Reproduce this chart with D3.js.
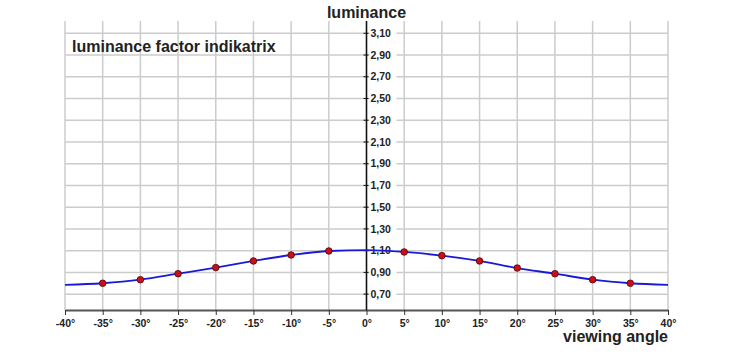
<!DOCTYPE html>
<html><head><meta charset="utf-8">
<script src="https://cdn.jsdelivr.net/npm/d3@7"></script>
<style>body{margin:0;background:#fff}svg{display:block}text{font-family:"Liberation Sans",Arial,sans-serif}</style>
</head><body>
<svg id="c" width="731" height="357"></svg>
<script>
const markerAngles = [-35,-30,-25,-20,-15,-10,-5,5,10,15,20,25,30,35];
const markerValues = [0.80,0.833,0.888,0.944,1.005,1.06,1.097,1.088,1.054,1.005,0.94,0.888,0.833,0.80];
const curveAngles = [-40,-35,-30,-25,-20,-15,-10,-5,0,5,10,15,20,25,30,35,40];
const curveValues = [0.785,0.80,0.833,0.888,0.944,1.005,1.06,1.097,1.105,1.088,1.054,1.005,0.94,0.888,0.833,0.80,0.785];
const xTicks = [-40,-35,-30,-25,-20,-15,-10,-5,0,5,10,15,20,25,30,35,40];
const yTicks = [0.70,0.90,1.10,1.30,1.50,1.70,1.90,2.10,2.30,2.50,2.70,2.90,3.10];
const title = "luminance factor indikatrix";
const yTitle = "luminance";
const xTitle = "viewing angle";

const svg = d3.select("#c");
const x = d3.scaleLinear().domain([-40,40]).range([65,668]);
const y = d3.scaleLinear().domain([0.554,3.213]).range([310,21]);
const fmt = v => d3.format(".2f")(v).replace(".", ",");

// grid
svg.append("g").selectAll("line").data(xTicks).join("line")
  .attr("x1", d=>x(d)).attr("x2", d=>x(d)).attr("y1", y.range()[1]).attr("y2", y.range()[0])
  .attr("stroke", "#cccccc").attr("stroke-width", 1.5);
svg.append("g").selectAll("line").data(yTicks).join("line")
  .attr("x1", x.range()[0]).attr("x2", x.range()[1]).attr("y1", d=>y(d)).attr("y2", d=>y(d))
  .attr("stroke", "#cccccc").attr("stroke-width", 1.5);

// x axis
const xAxis = svg.append("g").attr("transform", `translate(0,${y.range()[0]})`)
  .call(d3.axisBottom(x).tickValues(xTicks).tickFormat(d=>d+"°").tickSize(5).tickSizeOuter(0));
xAxis.select(".domain").attr("stroke", "#555").attr("stroke-width", 2);
xAxis.selectAll(".tick line").attr("stroke", "#333");
xAxis.selectAll(".tick text").attr("font-size", 10.5).attr("font-weight", "bold").attr("fill", "#222")
  .attr("font-family", '"Liberation Sans",Arial,sans-serif').attr("dy", "0.9em");

// y axis at x=0
const yAxis = svg.append("g").attr("transform", `translate(${x(0)},0)`);
yAxis.append("line").attr("x1",0).attr("x2",0).attr("y1",y.range()[1]).attr("y2",y.range()[0])
  .attr("stroke","#111").attr("stroke-width",1.5);
const yt = yAxis.selectAll("g").data(yTicks).join("g").attr("transform", d=>`translate(0,${y(d)})`);
yt.append("rect").attr("x", 3).attr("y", -6).attr("width", 27).attr("height", 12).attr("fill", "#fff");
yt.append("line").attr("x1",-3).attr("x2",2).attr("stroke","#111").attr("stroke-width",1);
yt.append("text").text(fmt).attr("x", 4).attr("dy", "0.35em")
  .attr("font-size", 10.5).attr("font-weight", "bold").attr("fill", "#222");

// curve
const line = d3.line().x(d=>x(d[0])).y(d=>y(d[1])).curve(d3.curveMonotoneX);
svg.append("path").datum(d3.zip(curveAngles, curveValues)).attr("d", line)
  .attr("fill","none").attr("stroke","#1a1ad6").attr("stroke-width",1.8);

// markers
svg.append("g").selectAll("circle").data(d3.zip(markerAngles, markerValues)).join("circle")
  .attr("cx", d=>x(d[0])).attr("cy", d=>y(d[1])).attr("r", 3.3)
  .attr("fill", "#c8101a").attr("stroke", "#500").attr("stroke-width", 0.8);

// titles
svg.append("text").text(yTitle).attr("x", x(0)).attr("y", 18).attr("text-anchor","middle")
  .attr("font-size", 16).attr("font-weight","bold").attr("fill","#222");
svg.append("text").text(title).attr("x", 72).attr("y", 52)
  .attr("font-size", 16).attr("font-weight","bold").attr("fill","#222");
svg.append("text").text(xTitle).attr("x", 668).attr("y", 342).attr("text-anchor","end")
  .attr("font-size", 16).attr("font-weight","bold").attr("fill","#222");
</script>
</body></html>
